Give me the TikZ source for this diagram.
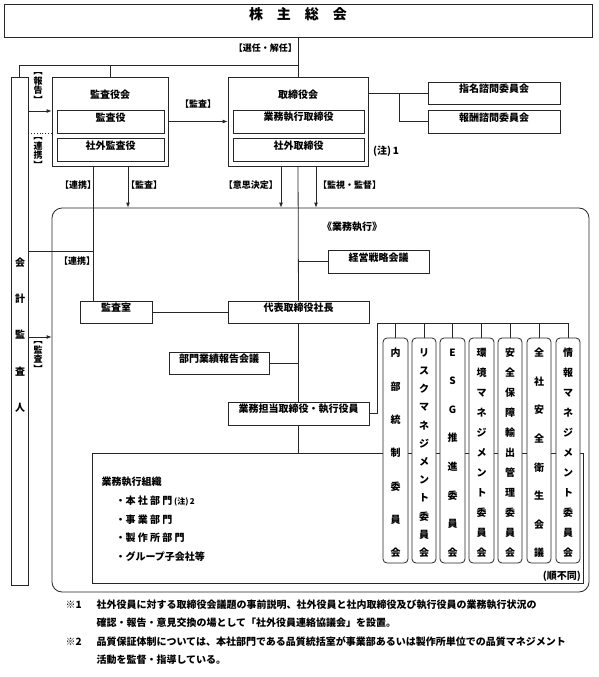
\documentclass[tikz,border=0pt]{standalone}
\usepackage{fontspec}
\setmainfont{Noto Sans CJK JP}
\usetikzlibrary{fit,arrows.meta}
\begin{document}
\begin{tikzpicture}[x=1pt,y=-1pt,
  every node/.style={font=\fontsize{10}{12}\selectfont\bfseries},
  ln/.style={line width=0.8pt, draw=black!85},
  bx/.style={draw=black!85, line width=0.8pt, inner sep=0pt, fit={#1}},
  cm/.style={draw=black!85, line width=0.8pt, inner sep=0pt, rounded corners=4pt, fill=white, fit={#1}},
  arr/.style={ln, -{Latex[length=5pt,width=4pt]}},
  lbl/.style={font=\fontsize{9}{10}\selectfont\bfseries, inner sep=0pt},
  vlbl/.style={font=\fontsize{9}{9.5}\selectfont\bfseries, inner sep=0pt, align=center},
  vt/.style={font=\fontsize{10}{#1}\selectfont\bfseries, inner sep=0pt, align=center}
]
\useasboundingbox (0,0) rectangle (598,677);

% top
\node[bx={(4,4) (592,37)}, font=\fontsize{14}{16}\selectfont\bfseries] (agm) {株\hspace{1em}主\hspace{1em}総\hspace{1em}会};

% audit board
\node[bx={(52,77) (168,166)}] (kyk) {};
\node (kykt) at (110,95) {監査役会};
\node[bx={(57,110) (164,133)}] (ky) {監査役};
\node[bx={(57,138) (164,161)}] (sky) {社外監査役};

% board
\node[bx={(228,77) (368,166)}] (bd) {};
\node (bdt) at (298,95) {取締役会};
\node[bx={(233,110) (364,133)}] (ed) {業務執行取締役};
\node[bx={(233,138) (364,161)}] (od) {社外取締役};
\node[anchor=west, inner sep=0pt] (n1) at (373,151) {(注)\,1};

\node[bx={(428,82) (560,104)}] (nom) {指名諮問委員会};
\node[bx={(428,110) (560,133)}] (rem) {報酬諮問委員会};

% accounting auditor
\node[bx={(11,77) (28,585)}] (aud) {};
\node[vt=36.25] (audt) at (20,335) {会\\計\\監\\査\\人};

% frame
\node[draw=black!85, line width=0.8pt, rounded corners=10pt, inner sep=0pt, fit={(52,208) (589,592)}] (fr) {};
\node (frt) at (352,227) {《業務執行》};
\node[bx={(328,250) (429,273)}] (strat) {経営戦略会議};
\node[bx={(80,301) (152,323)}] (aro) {監査室};
\node[bx={(228,301) (369,323)}] (ceo) {代表取締役社長};
\node[bx={(169,352) (269,374)}] (perf) {部門業績報告会議};
\node[bx={(228,402) (369,425)}] (exo) {業務担当取締役・執行役員};
\node[bx={(92,453) (583,583)}] (org) {};
\node[anchor=west] (orgt) at (98,482) {業務執行組織};
\node[anchor=west] (o1) at (112,501) {・本 社 部 門\,{\fontsize{8}{10}\selectfont(注)\,2}};
\node[anchor=west] (o2) at (112,520) {・事 業 部 門};
\node[anchor=west] (o3) at (112,538) {・製 作 所 部 門};
\node[anchor=west] (o4) at (112,557) {・グループ子会社等};

% committees
\node[cm={(383,338) (408,563)}] (c1) {};
\node[cm={(412,338) (436,563)}] (c2) {};
\node[cm={(440,338) (465,563)}] (c3) {};
\node[cm={(469,338) (494,563)}] (c4) {};
\node[cm={(498,338) (522,563)}] (c5) {};
\node[cm={(527,338) (551,563)}] (c6) {};
\node[cm={(556,338) (580,563)}] (c7) {};
\node[vt=33.3] (t1) at (c1 |- 0,453) {内\\部\\統\\制\\委\\員\\会};
\node[vt=18.2] (t2) at (c2 |- 0,453) {リ\\ス\\ク\\マ\\ネ\\ジ\\メ\\ン\\ト\\委\\員\\会};
\node[vt=28.6] (t3) at (c3 |- 0,453) {E\\S\\G\\推\\進\\委\\員\\会};
\node[vt=20] (t4) at (c4 |- 0,453) {環\\境\\マ\\ネ\\ジ\\メ\\ン\\ト\\委\\員\\会};
\node[vt=20] (t5) at (c5 |- 0,453) {安\\全\\保\\障\\輸\\出\\管\\理\\委\\員\\会};
\node[vt=28.6] (t6) at (c6 |- 0,453) {全\\社\\安\\全\\衛\\生\\会\\議};
\node[vt=20] (t7) at (c7 |- 0,453) {情\\報\\マ\\ネ\\ジ\\メ\\ン\\ト\\委\\員\\会};
\node[anchor=east, inner sep=0pt] (jf) at (581,576) {(順不同)};

% labels
\node[lbl, anchor=east] (l1) at (297,48) {【選任・解任】};
\node[lbl] (l2) at (198,104) {【監査】};
\node[lbl] (l3) at (78,185) {【連携】};
\node[lbl] (l4) at (144,185) {【監査】};
\node[lbl, anchor=east] (l5) at (278,185) {【意思決定】};
\node[lbl, anchor=west] (l6) at (318,185) {【監視・監督】};
\node[lbl] (l7) at (77,261) {【連携】};
\node[vlbl] (v1) at (38,88) {︻\\報\\告\\︼};
\node[vlbl] (v2) at (38,153) {︻\\連\\携\\︼};
\node[vlbl] (v3) at (38,357) {︻\\監\\査\\︼};

% connectors
\coordinate (j1) at (298,65);
\draw[ln] (agm.south) -- (bd.north);
\draw[ln] (aud.north) |- (j1);
\draw[ln] (kyk.north) -- (kyk.north |- j1);
\draw[arr] (aud.east |- 0,111) -- (kyk.west |- 0,111);
\draw[ln, dotted] (aud.east |- 0,133) -- (kyk.west |- 0,133);
\draw[arr] (aud.east |- 0,337) -- (fr.west |- 0,337);
\draw[ln] (aud.east |- 0,251) -- (93,251);
\draw[ln] (kyk.south -| 93,0) -- (aro.north -| 93,0);
\draw[arr] (kyk.east |- ky) -- (bd.west |- ky);
\draw[arr] (kyk.south -| 128,0) -- (fr.north -| 128,0);
\draw[arr] (bd.south -| 281,0) -- (fr.north -| 281,0);
\draw[arr] (bd.south -| 316,0) -- (fr.north -| 316,0);
\coordinate (j2) at (399,93);
\draw[ln] (bd.east |- nom) -- (nom.west);
\draw[ln] (j2) |- (rem.west);
\draw[ln] (bd.south) -- (ceo.north);
\draw[ln] (ceo.south) -- (exo.north);
\draw[ln] (exo.south) -- (org.north -| exo.south);
\draw[ln] (strat.west) -- (strat.west -| bd.south);
\draw[ln] (aro.east) -- (ceo.west);
\draw[ln] (perf.east) -- (perf.east -| ceo.south);
\coordinate (cb) at (377,323);
\draw[ln] (exo.east) -| (cb) -- (c7.north |- cb);
\foreach \c in {c1,c2,c3,c4,c5,c6,c7} \draw[ln] (\c.north |- cb) -- (\c.north);

% footnotes
\node[anchor=west] (f1a) at (62,605) {※1};
\node[anchor=west] (f1b) at (93,605) {社外役員に対する取締役会議題の事前説明、社外役員と社内取締役及び執行役員の業務執行状況の};
\node[anchor=west] (f2b) at (93,623) {確認・報告・意見交換の場として「社外役員連絡協議会」を設置。};
\node[anchor=west] (f3a) at (62,642) {※2};
\node[anchor=west] (f3b) at (93,642) {品質保証体制については、本社部門である品質統括室が事業部あるいは製作所単位での品質マネジメント};
\node[anchor=west] (f4b) at (93,660) {活動を監督・指導している。};
\end{tikzpicture}
\end{document}
